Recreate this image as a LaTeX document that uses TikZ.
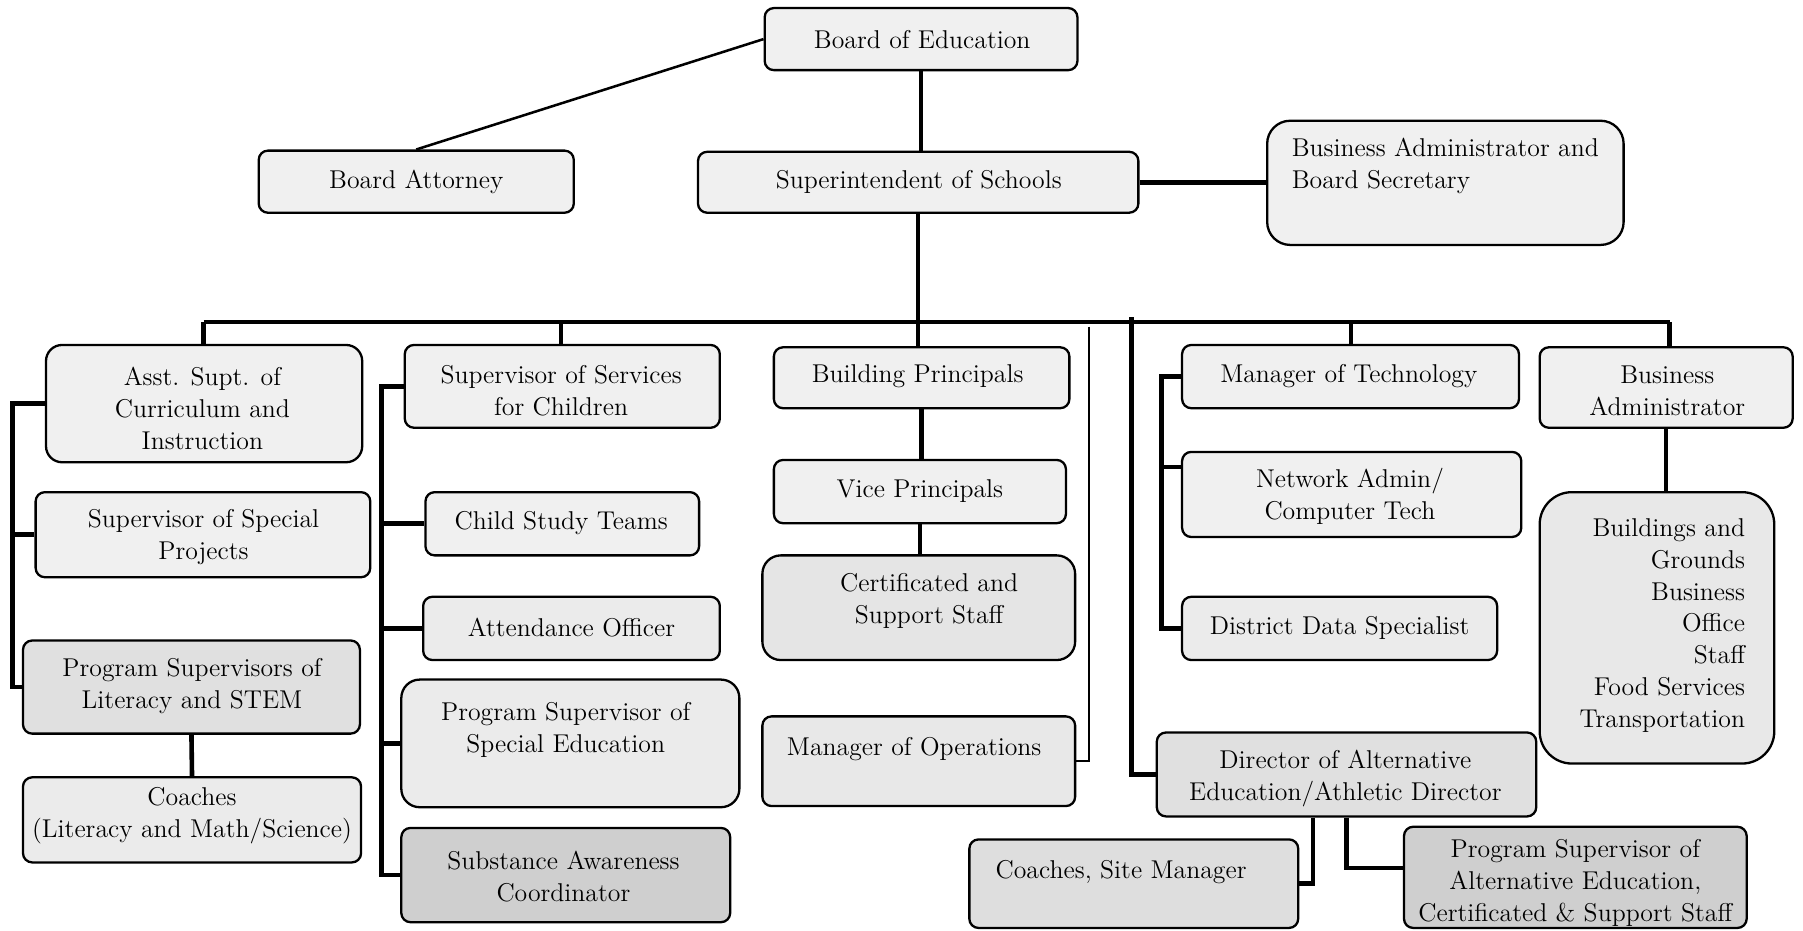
\documentclass[tikz,border=0pt]{standalone}
\usetikzlibrary{fit,calc}
\tikzset{
  box/.style={draw=black, line width=1pt, rounded corners=4pt, inner sep=0pt, fill=gray!12},
  txt/.style={align=center, inner sep=0pt, font=\fontsize{11.2}{13.9}\selectfont},
  con/.style={line width=2pt},
  thn/.style={line width=1.1pt},
}
\newcommand\bx[4]{\node[box,#4,fit={(#2)(#3)}] (#1) {};}
\begin{document}
\begin{tikzpicture}[x=0.5pt,y=-0.5pt]
\useasboundingbox[fill=white] (0,0) rectangle (1568,809);
% boxes
\bx{boe}{665,7}{937,61}{}
\node[txt] (boeT) at (802,34) {Board of Education};
\bx{att}{225,131}{499,185}{}
\node[txt] (attT) at (362,158) {Board Attorney};
\bx{sup}{607,132}{990,185}{}
\node[txt] (supT) at (799,158) {Superintendent of Schools};
\bx{bas}{1102,105}{1412,213}{rounded corners=10pt}
\node[txt,align=left,anchor=west] (basT) at (1123,144) {Business Administrator and\\Board Secretary};
\bx{asst}{40,300}{315,402}{rounded corners=7pt}
\node[txt] (asstT) at (176,355) {Asst. Supt. of\\Curriculum and\\Instruction};
\bx{ssc}{352,300}{626,372}{}
\node[txt] (sscT) at (488,340) {Supervisor of Services\\for Children};
\bx{bp}{673,302}{930,355}{}
\node[txt] (bpT) at (798,327) {Building Principals};
\bx{mt}{1028,300}{1321,355}{}
\node[txt] (mtT) at (1173,327) {Manager of Technology};
\bx{ba}{1339,302}{1559,372}{}
\node[txt] (baT) at (1450,340) {Business\\Administrator};
\bx{ssp}{31,428}{322,502}{}
\node[txt] (sspT) at (177,467) {Supervisor of Special\\Projects};
\bx{psl}{20,557}{313,638}{fill=gray!24}
\node[txt] (pslT) at (167,597) {Program Supervisors of\\Literacy and STEM};
\bx{coa}{20,676}{314,750}{fill=gray!16}
\node[txt] (coaT) at (167,709) {Coaches\\(Literacy and Math/Science)};
\bx{cst}{370,428}{608,483}{}
\node[txt] (cstT) at (488,455) {Child Study Teams};
\bx{ao}{368,519}{626,574}{fill=gray!16}
\node[txt] (aoT) at (497,546) {Attendance Officer};
\bx{pse}{349,591}{643,702}{fill=gray!16, rounded corners=8pt}
\node[txt] (pseT) at (492,635) {Program Supervisor of\\Special Education};
\bx{sas}{349,720}{635,802}{fill=gray!38}
\node[txt] (sasT) at (490,762) {Substance Awareness\\Coordinator};
\bx{vp}{673,400}{927,455}{}
\node[txt] (vpT) at (800,427) {Vice Principals};
\bx{css}{663,483}{935,574}{fill=gray!20, rounded corners=8pt}
\node[txt] (cssT) at (808,523) {Certificated and\\Support Staff};
\bx{mo}{663,623}{935,701}{fill=gray!18}
\node[txt] (moT) at (795,651) {Manager of Operations};
\bx{na}{1028,393}{1323,467}{}
\node[txt] (naT) at (1174,432) {Network Admin/\\Computer Tech};
\bx{dds}{1028,519}{1302,574}{fill=gray!16}
\node[txt] (ddsT) at (1165,546) {District Data Specialist};
\bx{bg}{1339,428}{1543,664}{fill=gray!18, rounded corners=14pt}
\node[txt,align=right,anchor=east] (bgT) at (1518,544) {Buildings and\\Grounds\\Business\\Office\\Staff\\Food Services\\Transportation};
\bx{dae}{1006,637}{1336,710}{fill=gray!24}
\node[txt] (daeT) at (1170,677) {Director of Alternative\\Education/Athletic Director};
\bx{csm}{843,730}{1129,807}{fill=gray!26}
\node[txt] (csmT) at (975,758) {Coaches, Site Manager};
\bx{psa}{1221,719}{1519,807}{fill=gray!38}
\node[txt] (psaT) at (1370,768) {Program Supervisor of\\Alternative Education,\\Certificated \& Support Staff};
% junction coordinates
\coordinate (busL) at (177,280);
\coordinate (busR) at (1452,280);
\coordinate (b2) at (488,280);
\coordinate (b4) at (1175,280);
\coordinate (b5) at (984,276);
\coordinate (b6) at (947,284);
\coordinate (lcol) at (11,0);
\coordinate (scol) at (332,0);
\coordinate (tcol) at (1010,0);
\coordinate (j1) at (1142,0);
\coordinate (j2) at (1171,0);
\coordinate (naS) at ([yshift=12pt]na.west);
\coordinate (psaS) at ([yshift=4pt]psa.west);
\coordinate (cmS) at ([yshift=0pt]csm.east);
% connectors
\draw[thn] (boe.west) -- (att.north);
\draw[con] (boe.south) -- (boe.south |- sup.north);
\draw[con] (sup.east) -- (sup.east -| bas.west);
\draw[con] (sup.south) -- (sup.south |- bp.north);
\draw[con] (busL) -- (busR);
\draw[con] (busL) -- (busL |- asst.north);
\draw[con] (b2) -- (b2 |- ssc.north);
\draw[con] (b4) -- (b4 |- mt.north);
\draw[con] (busR) -- (busR |- ba.north);
\draw[con] (b5) |- (dae.west);
\draw[thn] (b6) |- (mo.east);
\draw[con] (asst.west) -| (lcol |- psl.west) -- (psl.west);
\draw[con] (ssp.west) -- (lcol |- ssp.west);
\draw[con] (psl.south) -- (coa.north);
\draw[con] (ssc.west) -| (scol |- sas.west) -- (sas.west);
\draw[con] (cst.west) -- (scol |- cst.west);
\draw[con] (ao.west) -- (scol |- ao.west);
\draw[con] (pse.west) -- (scol |- pse.west);
\draw[con] (bp.south) -- (bp.south |- vp.north);
\draw[con] (vp.south) -- (vp.south |- css.north);
\draw[con] (mt.west) -| (tcol |- dds.west) -- (dds.west);
\draw[con] (naS) -- (tcol |- naS);
\draw[con] (ba.south) -- (ba.south |- bg.north);
\draw[con] (j1 |- dae.south) |- (cmS);
\draw[con] (j2 |- dae.south) |- (psaS);
\end{tikzpicture}
\end{document}
